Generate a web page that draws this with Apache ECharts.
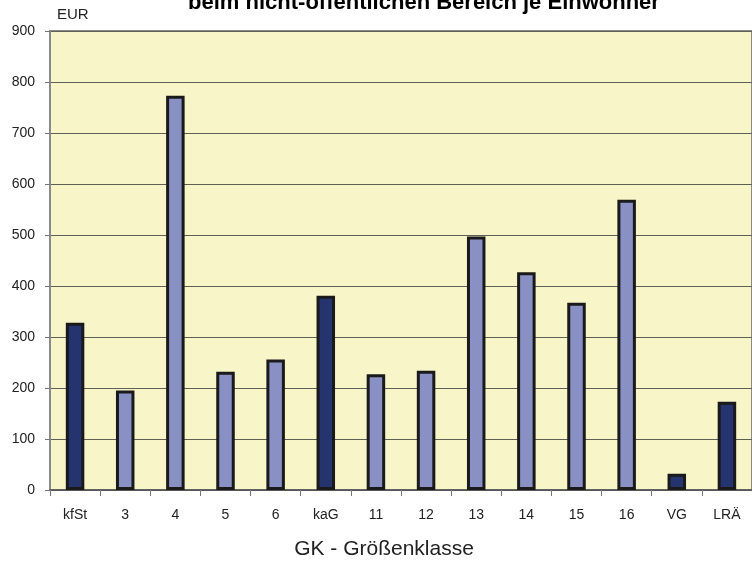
<!DOCTYPE html>
<html>
<head>
<meta charset="utf-8">
<script src="https://cdn.jsdelivr.net/npm/echarts@6/dist/echarts.min.js"></script>
<style>
  html, body { margin: 0; padding: 0; background: #fff; }
  #chart { width: 752px; height: 569px; }
</style>
</head>
<body>
<div id="chart"></div>
<script>
// Kategorien (Größenklassen) und Werte in EUR je Einwohner
const categories = ['kfSt', '3', '4', '5', '6', 'kaG', '11', '12', '13', '14', '15', '16', 'VG', 'LRÄ']
const values = [328, 195, 773, 232, 256, 381, 227, 234, 497, 427, 367, 569, 32, 173]
// Summenkategorien dunkel dargestellt
const totals = ['kfSt', 'kaG', 'VG', 'LRÄ']

const titleText = 'beim nicht-öffentlichen Bereich je Einwohner'
const unitText = 'EUR'
const xAxisTitle = 'GK - Größenklasse'

const FONT = '"Liberation Sans", Arial, sans-serif'
const LIGHT = '#8890C4'
const DARK = '#25336E'

const chart = echarts.init(document.getElementById('chart'), null, { renderer: 'canvas' })

chart.setOption({
  animation: false,
  backgroundColor: '#fff',
  textStyle: { fontFamily: FONT },
  graphic: [
    {
      type: 'text', x: 424, y: -8,
      style: { text: titleText, fontFamily: FONT, fontSize: 22, fontWeight: 'bold', fill: '#000', align: 'center', verticalAlign: 'top' }
    },
    {
      type: 'text', x: 57, y: 7,
      style: { text: unitText, fontFamily: FONT, fontSize: 15, fill: '#222', align: 'left', verticalAlign: 'top' }
    },
    {
      type: 'text', x: 384, y: 539,
      style: { text: xAxisTitle, fontFamily: FONT, fontSize: 21, fill: '#222', align: 'center', verticalAlign: 'top' }
    }
  ],
  grid: {
    left: 50, right: -6, top: 31, bottom: 79,
    show: true,
    backgroundColor: '#F8F5C9',
    borderColor: '#8a8a8a',
    borderWidth: 2
  },
  xAxis: {
    type: 'category',
    data: categories,
    axisLine: { lineStyle: { color: '#555', width: 1.5 } },
    axisTick: { show: true, length: 6, lineStyle: { color: '#777' } },
    axisLabel: { fontSize: 14, color: '#222', margin: 18, fontFamily: FONT }
  },
  yAxis: {
    type: 'value',
    min: 0, max: 900, interval: 100,
    axisLine: { show: true, lineStyle: { color: '#8a8a8a', width: 2 } },
    axisTick: { show: true, length: 5, lineStyle: { color: '#777' } },
    axisLabel: { fontSize: 14, color: '#222', margin: 15, fontFamily: FONT },
    splitLine: { lineStyle: { color: '#5f5f55', width: 1 } }
  },
  series: [{
    type: 'bar',
    barWidth: 18.5,
    data: values.map((v, i) => ({
      value: v,
      itemStyle: { color: totals.includes(categories[i]) ? DARK : LIGHT }
    })),
    itemStyle: { borderColor: '#1a1a1a', borderWidth: 3 }
  }]
})
</script>
</body>
</html>
